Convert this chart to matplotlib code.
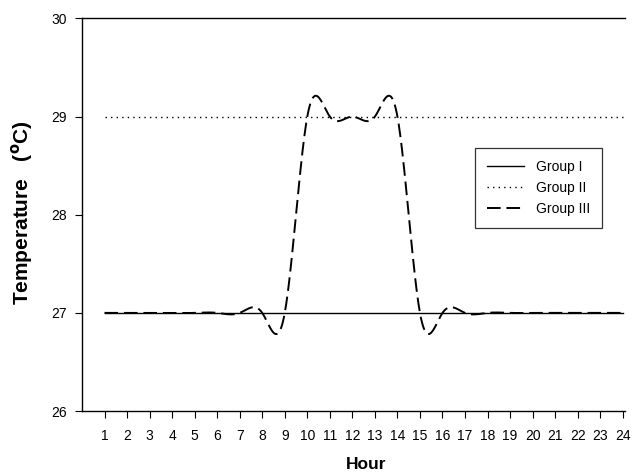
import numpy as np
import matplotlib.pyplot as plt

plt.rcParams['font.family'] = ['Liberation Sans', 'DejaVu Sans']

hours = list(range(1, 25))
group1 = [27] * 24
group2 = [29] * 24
group3 = [27, 27, 27, 27, 27, 27, 27, 27, 27,
          29, 29, 29, 29, 29,
          27, 27, 27, 27, 27, 27, 27, 27, 27, 27]


def spline(x, y, n=600):
    # natural cubic spline, the way the original curve was smoothed
    x = np.asarray(x, float)
    y = np.asarray(y, float)
    m = len(x)
    h = np.diff(x)
    A = np.zeros((m, m))
    b = np.zeros(m)
    A[0, 0] = A[-1, -1] = 1
    for i in range(1, m - 1):
        A[i, i - 1] = h[i - 1]
        A[i, i] = 2 * (h[i - 1] + h[i])
        A[i, i + 1] = h[i]
        b[i] = 6 * ((y[i + 1] - y[i]) / h[i] - (y[i] - y[i - 1]) / h[i - 1])
    M = np.linalg.solve(A, b)
    xs = np.linspace(x[0], x[-1], n)
    k = np.clip(np.searchsorted(x, xs) - 1, 0, m - 2)
    t = xs - x[k]
    hk = h[k]
    ys = (M[k] * (x[k + 1] - xs) ** 3 / (6 * hk) + M[k + 1] * t ** 3 / (6 * hk)
          + (y[k] / hk - M[k] * hk / 6) * (x[k + 1] - xs)
          + (y[k + 1] / hk - M[k + 1] * hk / 6) * t)
    return xs, ys


fig = plt.figure(figsize=(6.43, 4.73), dpi=100)
ax = fig.add_axes([0.1275, 0.131, 0.8445, 0.830])

xs, ys = spline(hours, group3)
ax.plot(hours, group1, color='black', lw=1.0, label='Group I')
ax.plot(hours, group2, color='black', lw=1.0, ls=(0, (1, 3)), label='Group II')
ax.plot(xs, ys, color='black', lw=1.4, ls=(0, (7, 3)), label='Group III')

ax.set_xlim(0, 24.1)
ax.set_ylim(26, 30)
ax.set_xticks(hours)
ax.set_yticks([26, 27, 28, 29, 30])
ax.spines['right'].set_visible(False)
for s in ['left', 'bottom', 'top']:
    ax.spines[s].set_linewidth(1.0)
ax.tick_params(labelsize=10, length=5, width=0.8, direction='out')
ax.tick_params(axis='x', pad=8)
ax.tick_params(axis='y', pad=6)

ax.set_xlabel('Hour', fontsize=12.5, fontweight='bold')
ax.set_ylabel('Temperature   (${}^{\\mathbf{o}}$C)', fontsize=15, fontweight='bold')
ax.xaxis.set_label_coords(0.523, -0.117)
ax.yaxis.set_label_coords(-0.087, 0.505)

leg = ax.legend(loc='upper left', bbox_to_anchor=(0.724, 0.670), fontsize=10,
                frameon=True, fancybox=False, edgecolor='black', handlelength=2.7,
                borderpad=0.85, labelspacing=0.5, borderaxespad=0)
leg.get_frame().set_linewidth(0.9)

plt.savefig('out.png', dpi=100)
